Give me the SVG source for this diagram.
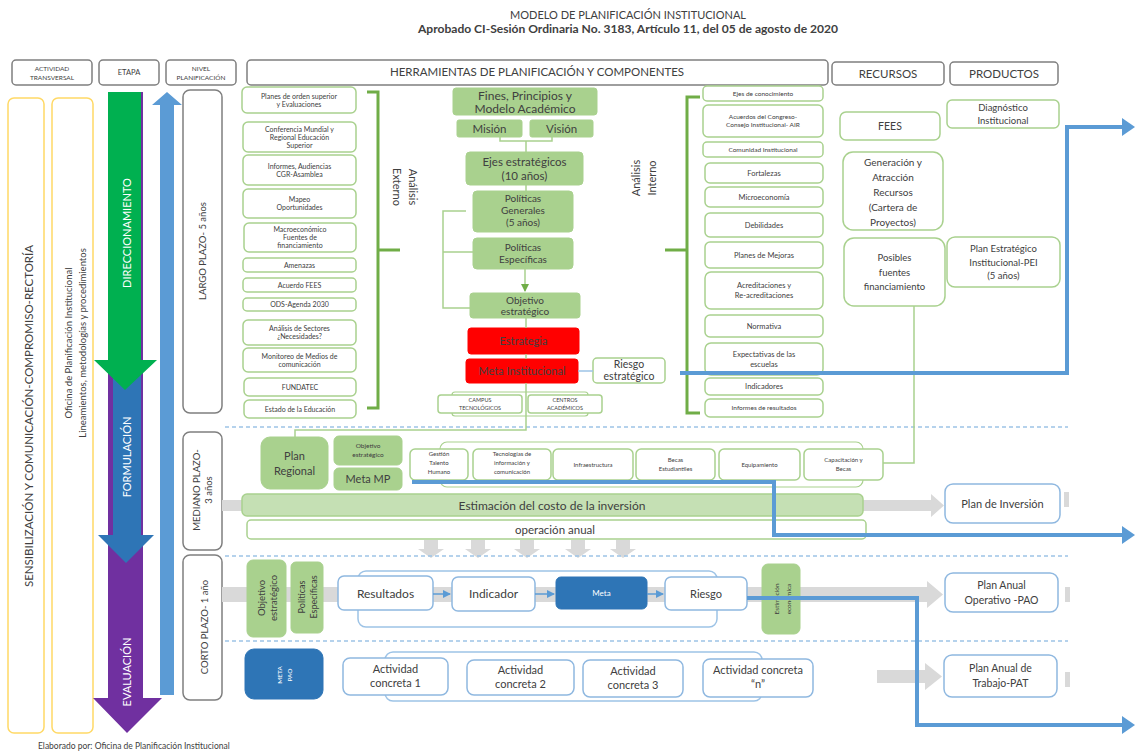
<svg xmlns="http://www.w3.org/2000/svg" width="1135" height="756" viewBox="0 0 1135 756">
<style>
.t{font-family:Lato,"Liberation Sans",sans-serif;fill:#404040;text-anchor:middle}
.wt{fill:#fff}
.gb{fill:#fff;stroke:#A9D18E;stroke-width:1.5}
.gf{fill:#A9D18E;stroke:#A9D18E;stroke-width:1}
.gl{fill:#C5E0B4;stroke:#A9D18E;stroke-width:1.5}
.bb{fill:#fff;stroke:#8FB8E0;stroke-width:1.5}
.bf{fill:#2E75B6;stroke:#2E75B6}
.hb{fill:#fff;stroke:#7F7F7F;stroke-width:1.5}
.yb{fill:#fff;stroke:#FFD966;stroke-width:1.5}
.ln{fill:none;stroke:#A9D18E;stroke-width:1.5}
.br{fill:none;stroke:#70AD47;stroke-width:3}
.bl{fill:none;stroke:#5B9BD5;stroke-width:4}
.dash{fill:none;stroke:#9DC3E6;stroke-width:1.5;stroke-dasharray:4 3}
.gr{fill:#D9D9D9}
.red{fill:#FF0000;stroke:#FF0000}
.fr{fill:none;stroke:#A9D18E;stroke-width:1.2}
.fb{fill:none;stroke:#9DC3E6;stroke-width:1.5}
</style>
<defs>
<marker id="ga" markerWidth="8" markerHeight="8" refX="7" refY="4" orient="auto" markerUnits="userSpaceOnUse"><path d="M0,0 L8,4 L0,8 Z" fill="#70AD47"/></marker>
<marker id="sa" markerWidth="8" markerHeight="8" refX="7" refY="4" orient="auto" markerUnits="userSpaceOnUse"><path d="M0,0 L8,4 L0,8 Z" fill="#5B9BD5"/></marker>
</defs>
<rect width="1135" height="756" fill="#fff"/>

<!-- Title -->
<g id="title">
<text x="628" y="19" class="t" font-family="'Liberation Sans',sans-serif" font-size="12" textLength="236" lengthAdjust="spacingAndGlyphs">MODELO DE PLANIFICACIÓN INSTITUCIONAL</text>
<text x="628" y="33" class="t" font-family="'Liberation Sans',sans-serif" font-size="11" font-weight="bold" fill="#262626" textLength="420" lengthAdjust="spacingAndGlyphs">Aprobado CI-Sesión Ordinaria No. 3183, Artículo 11, del 05 de agosto de 2020</text>
</g>

<!-- Headers -->
<g id="h-actividad"><rect class="hb" x="12" y="60" width="80" height="25" rx="4"/><text class="t" font-size="6.5" x="52" y="71">ACTIVIDAD</text><text class="t" font-size="6.5" x="52" y="80">TRANSVERSAL</text></g>
<g id="h-etapa"><rect class="hb" x="99" y="60" width="60" height="25" rx="4"/><text class="t" font-size="7.5" x="129" y="75">ETAPA</text></g>
<g id="h-nivel"><rect class="hb" x="166" y="60" width="70" height="25" rx="4"/><text class="t" font-size="6.5" x="201" y="71">NIVEL</text><text class="t" font-size="6.5" x="201" y="80">PLANIFICACIÓN</text></g>
<g id="h-herr"><rect class="hb" x="247" y="60" width="581" height="25" rx="4"/><text class="t" font-size="11.5" x="537" y="76">HERRAMIENTAS DE PLANIFICACIÓN Y COMPONENTES</text></g>
<g id="h-recursos"><rect class="hb" x="832" y="62" width="112" height="23" rx="4"/><text class="t" font-size="11.5" x="888" y="78">RECURSOS</text></g>
<g id="h-productos"><rect class="hb" x="950" y="62" width="108" height="23" rx="4"/><text class="t" font-size="11.5" x="1004" y="78">PRODUCTOS</text></g>

<!-- Transversal columns -->
<g id="sensibilizacion"><rect class="yb" x="8" y="98" width="36" height="635" rx="6"/>
<text class="t" font-size="11.5" transform="translate(33,416) rotate(-90)">SENSIBILIZACIÓN Y COMUNICACIÓN-COMPROMISO-RECTORÍA</text></g>
<g id="oficina"><rect class="yb" x="52" y="98" width="41" height="635" rx="6"/>
<text class="t" font-size="9.5" transform="translate(72,343) rotate(-90)">Oficina de Planificación Institucional</text>
<text class="t" font-size="9.5" transform="translate(86,343) rotate(-90)">Lineamientos, metodologías y procedimientos</text></g>

<!-- Etapa arrows -->
<g id="evaluacion"><polygon fill="#7030A0" points="108,92 143,92 143,698 162,698 127,733 93,698 108,698"/>
<text class="t wt" font-size="11" transform="translate(131,672) rotate(-90)">EVALUACIÓN</text></g>
<g id="formulacion"><polygon fill="#2E75B6" points="113,370 141,370 141,535 154,535 126,563 98,535 113,535"/>
<text class="t wt" font-size="11" transform="translate(131,457) rotate(-90)">FORMULACIÓN</text></g>
<g id="direccionamiento"><polygon fill="#00B050" points="108,92 141,92 141,360 157,360 125,390 94,360 108,360"/>
<text class="t wt" font-size="11" transform="translate(131,233) rotate(-90)">DIRECCIONAMIENTO</text></g>

<!-- Nivel -->
<g id="up-arrow"><polygon fill="#5B9BD5" points="160,695 174,695 174,105 182,105 167,92 152,105 160,105"/></g>
<g id="largo"><rect class="hb" x="183" y="90" width="39" height="323" rx="7"/><text class="t" font-size="9.5" transform="translate(206,251) rotate(-90)">LARGO PLAZO- 5 años</text></g>
<g id="mediano"><rect class="hb" x="183" y="432" width="39" height="118" rx="7"/><text class="t" font-size="9.5" transform="translate(200,490) rotate(-90)"><tspan x="0" y="0">MEDIANO PLAZO-</tspan><tspan x="0" y="12">3 años</tspan></text></g>
<g id="corto"><rect class="hb" x="183" y="555" width="39" height="145" rx="7"/><text class="t" font-size="9.5" transform="translate(208,627) rotate(-90)">CORTO PLAZO- 1 año</text></g>

<!-- Background gray arrows and separators -->
<g id="bg">
<path class="gr" d="M222,500 H931 V494 L944,505.5 L931,517 V511 H222 Z"/>
<path class="gr" d="M222,587 H927 V581 L943,594.5 L927,608 V602 H222 Z"/>
<path class="gr" d="M877,670 H925 V663 L942,676.5 L925,690 V683 H877 Z"/>
<rect class="gr" x="1064" y="492" width="5" height="15"/>
<rect class="gr" x="1065" y="587" width="5" height="15"/>
<rect class="gr" x="1065" y="672" width="5" height="15"/>
<path class="gr" d="M424,540 h14 v9 h6 l-13,9 l-13,-9 h6 Z"/>
<path class="gr" d="M471,540 h14 v9 h6 l-13,9 l-13,-9 h6 Z"/>
<path class="gr" d="M520,540 h14 v9 h6 l-13,9 l-13,-9 h6 Z"/>
<path class="gr" d="M571,540 h14 v9 h6 l-13,9 l-13,-9 h6 Z"/>
<path class="gr" d="M616,540 h14 v9 h6 l-13,9 l-13,-9 h6 Z"/>
<path class="dash" d="M225,427 H1068 M225,556 H1068 M225,641 H1068"/>
</g>

<!-- Análisis externo list -->
<g id="ext-1"><rect class="gb" x="242" y="87" width="114" height="26" rx="5"/><text class="t" font-size="7" x="299" y="98.5">Planes de orden superior</text><text class="t" font-size="7" x="299" y="106.5">y Evaluaciones</text></g>
<g id="ext-2"><rect class="gb" x="243" y="122" width="113" height="30" rx="5"/><text class="t" font-size="7" x="299.5" y="131.5">Conferencia Mundial y</text><text class="t" font-size="7" x="299.5" y="139.5">Regional Educación</text><text class="t" font-size="7" x="299.5" y="147.5">Superior</text></g>
<g id="ext-3"><rect class="gb" x="243" y="155" width="113" height="30" rx="5"/><text class="t" font-size="7" x="299.5" y="168.5">Informes, Audiencias</text><text class="t" font-size="7" x="299.5" y="176.5">CGR-Asamblea</text></g>
<g id="ext-4"><rect class="gb" x="243" y="189" width="113" height="29" rx="5"/><text class="t" font-size="7" x="299.5" y="202">Mapeo</text><text class="t" font-size="7" x="299.5" y="210">Oportunidades</text></g>
<g id="ext-5"><rect class="gb" x="244" y="223" width="112" height="29" rx="5"/><text class="t" font-size="7" x="300" y="232">Macroeconómico</text><text class="t" font-size="7" x="300" y="240">Fuentes de</text><text class="t" font-size="7" x="300" y="248">financiamiento</text></g>
<g id="ext-6"><rect class="gb" x="243" y="258" width="113" height="14" rx="4"/><text class="t" font-size="7" x="299.5" y="267.5">Amenazas</text></g>
<g id="ext-7"><rect class="gb" x="243" y="278" width="113" height="14" rx="4"/><text class="t" font-size="7" x="299.5" y="287.5">Acuerdo FEES</text></g>
<g id="ext-8"><rect class="gb" x="243" y="298" width="113" height="13" rx="4"/><text class="t" font-size="7" x="299.5" y="307">ODS-Agenda 2030</text></g>
<g id="ext-9"><rect class="gb" x="243" y="320" width="113" height="25" rx="5"/><text class="t" font-size="7" x="299.5" y="331">Análisis de Sectores</text><text class="t" font-size="7" x="299.5" y="339">¿Necesidades?</text></g>
<g id="ext-10"><rect class="gb" x="243" y="348" width="113" height="24" rx="5"/><text class="t" font-size="7" x="299.5" y="358.5">Monitoreo de Medios de</text><text class="t" font-size="7" x="299.5" y="366.5">comunicación</text></g>
<g id="ext-11"><rect class="gb" x="244" y="378" width="112" height="18" rx="5"/><text class="t" font-size="7" x="300" y="389.5">FUNDATEC</text></g>
<g id="ext-12"><rect class="gb" x="244" y="400" width="112" height="18" rx="5"/><text class="t" font-size="7" x="300" y="411.5">Estado de la Educación</text></g>
<g id="analisis-externo"><text class="t" font-size="11" transform="translate(409,187) rotate(90)"><tspan x="0" y="0">Análisis</tspan><tspan x="0" y="16">Externo</tspan></text></g>

<!-- Center column -->
<g id="fines"><rect class="gf" x="453" y="88" width="144" height="27" rx="3"/><text class="t" font-size="12" x="525" y="100">Fines, Principios y</text><text class="t" font-size="12" x="525" y="113">Modelo Académico</text></g>
<g id="mision"><rect class="gf" x="457" y="120" width="65" height="17" rx="2"/><text class="t" font-size="11.5" x="489.5" y="133">Misión</text></g>
<g id="vision"><rect class="gf" x="530" y="120" width="63" height="17" rx="2"/><text class="t" font-size="11.5" x="561.5" y="133">Visión</text></g>
<g id="ejes"><rect class="gf" x="466" y="152" width="117" height="33" rx="4"/><text class="t" font-size="11.5" x="524.5" y="166">Ejes estratégicos</text><text class="t" font-size="11.5" x="524.5" y="180">(10 años)</text></g>
<g id="pol-gen"><rect class="gf" x="473" y="191" width="100" height="41" rx="4"/><text class="t" font-size="10" x="523" y="202">Políticas</text><text class="t" font-size="10" x="523" y="214">Generales</text><text class="t" font-size="10" x="523" y="226">(5 años)</text></g>
<g id="pol-esp"><rect class="gf" x="473" y="238" width="100" height="31" rx="4"/><text class="t" font-size="10" x="523" y="251">Políticas</text><text class="t" font-size="10" x="523" y="263">Específicas</text></g>
<g id="objetivo"><rect class="gf" x="470" y="293" width="110" height="25" rx="3"/><text class="t" font-size="10" x="525" y="304">Objetivo</text><text class="t" font-size="10" x="525" y="315">estratégico</text></g>
<g id="estrategia"><rect class="red" x="468" y="328" width="111" height="26" rx="3"/><text class="t" font-size="11" fill="#5a0000" x="523.5" y="345">Estrategia</text></g>
<g id="meta-inst"><rect class="red" x="466" y="359" width="112" height="24" rx="3"/><text class="t" font-size="11" fill="#5a0000" x="522" y="375">Meta Institucional</text></g>
<g id="riesgo-est"><rect class="gb" x="593" y="358" width="72" height="25" rx="4"/><text class="t" font-size="10.5" x="629" y="368">Riesgo</text><text class="t" font-size="10.5" x="629" y="380">estratégico</text></g>
<g id="campus-frame"><rect class="fr" x="452" y="392" width="136" height="24" rx="3"/></g>
<g id="campus"><rect class="gb" x="438" y="395" width="84" height="18" rx="3"/><text class="t" font-size="5.5" x="480" y="402">CAMPUS</text><text class="t" font-size="5.5" x="480" y="410">TECNOLÓGICOS</text></g>
<g id="centros"><rect class="gb" x="528" y="395" width="74" height="18" rx="3"/><text class="t" font-size="5.5" x="565" y="402">CENTROS</text><text class="t" font-size="5.5" x="565" y="410">ACADÉMICOS</text></g>

<!-- Análisis interno list -->
<g id="int-1"><rect class="gb" x="703" y="86" width="120" height="15" rx="4"/><text class="t" font-size="6.5" x="763" y="95.8">Ejes de conocimiento</text></g>
<g id="int-2"><rect class="gb" x="703" y="105" width="120" height="32" rx="5"/><text class="t" font-size="6.5" x="763" y="119.3">Acuerdos del Congreso-</text><text class="t" font-size="6.5" x="763" y="127.3">Consejo Institucional- AIR</text></g>
<g id="int-3"><rect class="gb" x="703" y="142" width="120" height="15" rx="4"/><text class="t" font-size="6.5" x="763" y="151.8">Comunidad Institucional</text></g>
<g id="int-4"><rect class="gb" x="705" y="163" width="118" height="20" rx="5"/><text class="t" font-size="7.5" x="764" y="175.6">Fortalezas</text></g>
<g id="int-5"><rect class="gb" x="705" y="187" width="118" height="20" rx="5"/><text class="t" font-size="7.5" x="764" y="199.6">Microeconomía</text></g>
<g id="int-6"><rect class="gb" x="705" y="213" width="118" height="24" rx="5"/><text class="t" font-size="7.5" x="764" y="227.6">Debilidades</text></g>
<g id="int-7"><rect class="gb" x="705" y="242" width="118" height="26" rx="5"/><text class="t" font-size="7.5" x="764" y="257.6">Planes de Mejoras</text></g>
<g id="int-8"><rect class="gb" x="705" y="272" width="118" height="37" rx="6"/><text class="t" font-size="7.5" x="764" y="288.1">Acreditaciones y</text><text class="t" font-size="7.5" x="764" y="298.1">Re-acreditaciones</text></g>
<g id="int-9"><rect class="gb" x="705" y="315" width="118" height="22" rx="5"/><text class="t" font-size="7.5" x="764" y="328.6">Normativa</text></g>
<g id="int-10"><rect class="gb" x="705" y="343" width="118" height="32" rx="6"/><text class="t" font-size="7.5" x="764" y="356.6">Expectativas de las</text><text class="t" font-size="7.5" x="764" y="366.6">escuelas</text></g>
<g id="int-11"><rect class="gb" x="705" y="378" width="118" height="17" rx="5"/><text class="t" font-size="7.5" x="764" y="389.1">Indicadores</text></g>
<g id="int-12"><rect class="gb" x="705" y="399" width="118" height="18" rx="5"/><text class="t" font-size="6.5" x="764" y="410.3">Informes de resultados</text></g>
<g id="analisis-interno"><text class="t" font-size="11" transform="translate(640,178) rotate(-90)"><tspan x="0" y="0">Análisis</tspan><tspan x="0" y="16">Interno</tspan></text></g>

<!-- Recursos / Productos -->
<g id="fees"><rect class="gb" x="840" y="112" width="100" height="28" rx="6"/><text class="t" font-size="10.5" x="890" y="130">FEES</text></g>
<g id="generacion"><rect class="gb" x="843" y="152" width="100" height="78" rx="10"/><text class="t" font-size="10" x="893" y="166">Generación y</text><text class="t" font-size="10" x="893" y="181">Atracción</text><text class="t" font-size="10" x="893" y="196">Recursos</text><text class="t" font-size="10" x="893" y="211">(Cartera de</text><text class="t" font-size="10" x="893" y="226">Proyectos)</text></g>
<g id="posibles"><rect class="gb" x="844" y="238" width="101" height="68" rx="10"/><text class="t" font-size="9.5" x="894.5" y="261">Posibles</text><text class="t" font-size="9.5" x="894.5" y="276">fuentes</text><text class="t" font-size="9.5" x="894.5" y="290">financiamiento</text></g>
<g id="diagnostico"><rect class="gb" x="947" y="100" width="112" height="28" rx="5"/><text class="t" font-size="9.5" x="1003" y="110.5">Diagnóstico</text><text class="t" font-size="9.5" x="1003" y="123.5">Institucional</text></g>
<g id="pei"><rect class="gb" x="947" y="237" width="113" height="50" rx="8"/><text class="t" font-size="9.5" x="1003.5" y="252">Plan Estratégico</text><text class="t" font-size="9.5" x="1003.5" y="265.5">Institucional-PEI</text><text class="t" font-size="9.5" x="1003.5" y="279">(5 años)</text></g>

<!-- Mediano plazo -->
<g id="plan-regional"><rect class="gf" x="261" y="437" width="67" height="52" rx="9"/><text class="t" font-size="11" x="294.5" y="460">Plan</text><text class="t" font-size="11" x="294.5" y="475">Regional</text></g>
<g id="obj-mp"><rect class="gf" x="334" y="436" width="68" height="29" rx="5"/><text class="t" font-size="6.5" x="368" y="448">Objetivo</text><text class="t" font-size="6.5" x="368" y="456.5">estratégico</text></g>
<g id="meta-mp"><rect class="gf" x="334" y="468" width="68" height="22" rx="5"/><text class="t" font-size="11" x="368" y="483">Meta MP</text></g>
<g id="mp-frame"><rect class="fr" x="440" y="442" width="423" height="45" rx="7"/></g>
<g id="gestion"><rect class="gb" x="410" y="449" width="58" height="31" rx="5"/><text class="t" font-size="6" x="439" y="456">Gestión</text><text class="t" font-size="6" x="439" y="465">Talento</text><text class="t" font-size="6" x="439" y="474">Humano</text></g>
<g id="tic"><rect class="gb" x="473" y="449" width="78" height="31" rx="5"/><text class="t" font-size="6" x="512" y="456">Tecnologías de</text><text class="t" font-size="6" x="512" y="465">información y</text><text class="t" font-size="6" x="512" y="474">comunicación</text></g>
<g id="infra"><rect class="gb" x="553" y="449" width="80" height="31" rx="5"/><text class="t" font-size="6" x="593" y="467">Infraestructura</text></g>
<g id="becas"><rect class="gb" x="636" y="449" width="79" height="31" rx="5"/><text class="t" font-size="6" x="675.5" y="462">Becas</text><text class="t" font-size="6" x="675.5" y="471">Estudiantiles</text></g>
<g id="equip"><rect class="gb" x="719" y="449" width="81" height="31" rx="5"/><text class="t" font-size="6" x="759.5" y="467">Equipamiento</text></g>
<g id="capacitacion"><rect class="gb" x="804" y="449" width="79" height="31" rx="5"/><text class="t" font-size="6" x="843.5" y="462">Capacitación y</text><text class="t" font-size="6" x="843.5" y="471">Becas</text></g>
<g id="estimacion"><rect class="gl" x="242" y="494" width="621" height="22" rx="5"/><text class="t" font-size="12" x="552" y="509.5">Estimación del costo de la inversión</text></g>
<g id="operacion"><rect class="gb" x="247" y="520" width="619" height="19" rx="4"/><text class="t" font-size="11.5" x="555" y="533.5">operación anual</text></g>
<g id="plan-inversion"><rect class="bb" x="945" y="484" width="115" height="39" rx="8"/><text class="t" font-size="11" x="1002.5" y="507.5">Plan de Inversión</text></g>

<!-- Corto plazo -->
<g id="obj-cp"><rect class="gf" x="247" y="560" width="39" height="77" rx="6"/><text class="t" font-size="9.5" transform="translate(265,598) rotate(-90)"><tspan x="0" y="0">Objetivo</tspan><tspan x="0" y="12">estratégico</tspan></text></g>
<g id="pol-cp"><rect class="gf" x="291" y="562" width="32" height="71" rx="5"/><text class="t" font-size="9" transform="translate(305,597) rotate(-90)"><tspan x="0" y="0">Políticas</tspan><tspan x="0" y="12">Específicas</tspan></text></g>
<g id="cp-frame"><rect class="fb" x="358" y="571" width="359" height="56" rx="8"/></g>
<g id="resultados"><rect class="bb" x="338" y="576" width="95" height="34" rx="6"/><text class="t" font-size="12" x="385.5" y="597.5">Resultados</text></g>
<g id="indicador"><rect class="bb" x="452" y="577" width="83" height="34" rx="6"/><text class="t" font-size="12" x="493.5" y="598">Indicador</text></g>
<g id="meta-cp"><rect class="bf" x="556" y="577" width="91" height="32" rx="5"/><text class="t wt" font-size="8" x="601.5" y="596">Meta</text></g>
<g id="riesgo-cp"><rect class="bb" x="665" y="577" width="82" height="33" rx="6"/><text class="t" font-size="11" x="706" y="597.5">Riesgo</text></g>
<g id="est-eco"><rect class="gf" x="762" y="564" width="38" height="70" rx="6"/><text class="t" font-size="6.5" transform="translate(779,599) rotate(-90)"><tspan x="0" y="0">Estimación</tspan><tspan x="0" y="12">económica</tspan></text></g>
<g id="pao"><rect class="bb" x="945" y="573" width="113" height="39" rx="8"/><text class="t" font-size="10.5" x="1001.5" y="589">Plan Anual</text><text class="t" font-size="10.5" x="1001.5" y="604">Operativo -PAO</text></g>

<!-- Trabajo -->
<g id="meta-pao"><rect class="bf" x="245" y="649" width="78" height="50" rx="9"/><text class="t wt" font-size="6.5" transform="translate(282,675) rotate(-90)"><tspan x="0" y="0">META</tspan><tspan x="0" y="10">PAO</tspan></text></g>
<g id="pat-frame"><rect class="fb" x="385" y="652" width="377" height="49" rx="8"/></g>
<g id="act-1"><rect class="bb" x="343" y="658" width="105" height="37" rx="7"/><text class="t" font-size="11" x="395.5" y="673">Actividad</text><text class="t" font-size="11" x="395.5" y="687">concreta 1</text></g>
<g id="act-2"><rect class="bb" x="467" y="660" width="107" height="35" rx="7"/><text class="t" font-size="11" x="520.5" y="674">Actividad</text><text class="t" font-size="11" x="520.5" y="688">concreta 2</text></g>
<g id="act-3"><rect class="bb" x="583" y="660" width="100" height="37" rx="7"/><text class="t" font-size="11" x="633" y="675">Actividad</text><text class="t" font-size="11" x="633" y="689">concreta 3</text></g>
<g id="act-n"><rect class="bb" x="703" y="659" width="110" height="38" rx="7"/><text class="t" font-size="11" x="758" y="674">Actividad concreta</text><text class="t" font-size="11" x="758" y="688">“n”</text></g>
<g id="pat"><rect class="bb" x="944" y="655" width="113" height="42" rx="8"/><text class="t" font-size="10.5" x="1000.5" y="672">Plan Anual de</text><text class="t" font-size="10.5" x="1000.5" y="687">Trabajo-PAT</text></g>

<!-- Connectors -->
<g id="connectors">
<path class="ln" d="M500,137 V141 H552 V137 M526,141 V152"/>
<path class="ln" d="M526,185 V191"/>
<path class="ln" d="M525,269 V291" marker-end="url(#ga)"/>
<path class="ln" d="M466,211 H443 V308 H470 M443,252 H473"/>
<path class="ln" d="M526,318 V328 M526,354 V359"/>
<path class="ln" d="M526,383 V430 H295 V437"/>
<path fill="none" stroke="#9DC3E6" stroke-width="1.5" d="M578,371 H593"/>
<path class="br" d="M367,92 H378 V408 H367 M378,250 H400"/>
<path class="br" d="M700,97 H687 V413 H700 M687,250 H665"/>
<path class="ln" d="M914,306 V463 H883"/>
<path fill="none" stroke="#5B9BD5" stroke-width="1.5" d="M433,594 H450" marker-end="url(#sa)"/>
<path fill="none" stroke="#5B9BD5" stroke-width="1.5" d="M535,594 H554" marker-end="url(#sa)"/>
<path fill="none" stroke="#5B9BD5" stroke-width="1.5" d="M647,594 H663" marker-end="url(#sa)"/>
<path class="bl" d="M680,373 H1067 V127 H1123"/>
<polygon fill="#5B9BD5" points="1122,118 1135,127 1122,136"/>
<path class="bl" d="M412,482 H774 V535 H1123"/>
<polygon fill="#5B9BD5" points="1122,526 1135,535 1122,544"/>
<path class="bl" d="M747,598 H917 V725 H1123"/>
<polygon fill="#5B9BD5" points="1122,716 1135,725 1122,734"/>
</g>

<g id="footer"><text class="t" font-size="8.5" x="38" y="749" text-anchor="start" style="text-anchor:start">Elaborado por: Oficina de Planificación Institucional</text></g>
</svg>
